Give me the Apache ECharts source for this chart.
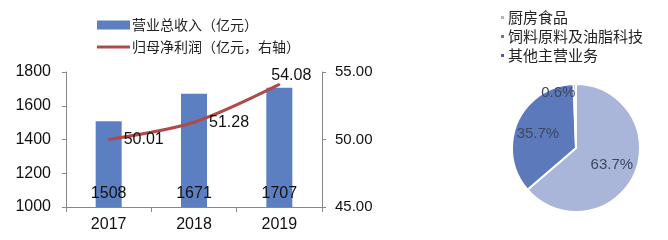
<!DOCTYPE html>
<html><head><meta charset="utf-8">
<script src="https://cdn.jsdelivr.net/npm/echarts@6/dist/echarts.min.js"></script>
<style>html,body{margin:0;padding:0;background:#fff}#c{width:668px;height:240px}</style>
</head><body><div id="c"></div>
<script>
var years = ['2017', '2018', '2019'];
var revenue = [1508, 1671, 1707];
var profit = [50.01, 51.28, 54.08];
var leftTicks = [1000, 1800, 200];
var rightTicks = [45, 55, 5];
var pieNames = ['厨房食品', '饲料原料及油脂科技', '其他主营业务'];
var pieValues = [63.7, 35.7, 0.6];

var ch = echarts.init(document.getElementById('c'));
var numFont = 'Liberation Sans, Arial, sans-serif';
var cjkFont = 'Noto Sans CJK SC, sans-serif';
var pieColors = ['#aab6d9', '#5b79bb', '#4a5f9c'];
ch.setOption({
  animation: false,
  legend: [{
    left: 92, top: 13, orient: 'vertical', itemGap: 8, itemWidth: 33, itemHeight: 9,
    symbolKeepAspect: true,
    textStyle: {fontFamily: cjkFont, fontSize: 14, color: '#222', padding: [0, 0, 0, -3]},
    data: [{name: '营业总收入（亿元）', icon: 'rect'}, {name: '归母净利润（亿元，右轴）', icon: 'path://M0,0 H33 V3 H0 Z', itemStyle: {color: '#b04a4a', opacity: 1}}]
  }, {
    left: 494, top: 5, orient: 'vertical', itemGap: 4, itemWidth: 5, itemHeight: 5, icon: 'rect',
    textStyle: {fontFamily: cjkFont, fontSize: 15, color: '#222', padding: [0, 0, 0, -2]},
    data: pieNames
  }],
  grid: {left: 66, right: 346, top: 72, bottom: 33},
  xAxis: {
    type: 'category', data: years,
    axisLine: {lineStyle: {color: '#888'}},
    axisTick: {show: true, length: 5, lineStyle: {color: '#888'}},
    axisLabel: {color: '#111', fontSize: 16, fontFamily: numFont, margin: 10}
  },
  yAxis: [{
    type: 'value', min: leftTicks[0], max: leftTicks[1], interval: leftTicks[2],
    axisLine: {show: true, lineStyle: {color: '#888'}},
    axisTick: {show: true, length: 4, lineStyle: {color: '#888'}},
    splitLine: {show: false},
    axisLabel: {color: '#111', fontSize: 16, fontFamily: numFont, margin: 15, formatter: function (v) { return String(v); }}
  }, {
    type: 'value', min: rightTicks[0], max: rightTicks[1], interval: rightTicks[2], position: 'right',
    axisLine: {show: true, lineStyle: {color: '#888'}},
    axisTick: {show: true, length: 4, lineStyle: {color: '#888'}},
    splitLine: {show: false},
    axisLabel: {color: '#111', fontSize: 15, fontFamily: numFont, margin: 13, formatter: function (v) { return v.toFixed(2); }}
  }],
  series: [{
    name: '营业总收入（亿元）', type: 'bar', data: revenue, barWidth: 26,
    itemStyle: {color: '#5b7fc1'},
    label: {show: true, position: 'insideBottom', distance: 5, color: '#111', fontSize: 16, fontFamily: numFont}
  }, {
    name: '归母净利润（亿元，右轴）', type: 'line', yAxisIndex: 1, smooth: 0.3,
    symbol: 'circle', symbolSize: 2, showSymbol: true,
    lineStyle: {color: '#b04a4a', width: 3}, itemStyle: {color: '#b04a4a'},
    label: {show: true, position: 'right', distance: 14, color: '#111', fontSize: 16, fontFamily: numFont, formatter: function (p) { return Number(p.value).toFixed(2); }},
    data: profit.map(function (v, i) {
      return i === 2 ? {value: v, label: {position: 'top', offset: [12, 0], distance: 0}} : v;
    })
  }, {
    type: 'pie', center: [576, 148], radius: 64, startAngle: 90, clockwise: true,
    itemStyle: {borderColor: '#fff', borderWidth: 2},
    label: {show: true, position: 'inside', color: '#3e4860', fontSize: 15, fontFamily: numFont, formatter: function (p) { return p.value.toFixed(1) + '%'; }},
    labelLine: {show: false},
    data: pieNames.map(function (n, i) {
      var d = {name: n, value: pieValues[i], itemStyle: {color: pieColors[i]}};
      if (i === 0) d.label = {offset: [4, 2]};
      if (i === 1) d.label = {offset: [-6, 0]};
      if (i === 2) d.label = {offset: [-17, -20]};
      return d;
    })
  }]
});
</script></body></html>
